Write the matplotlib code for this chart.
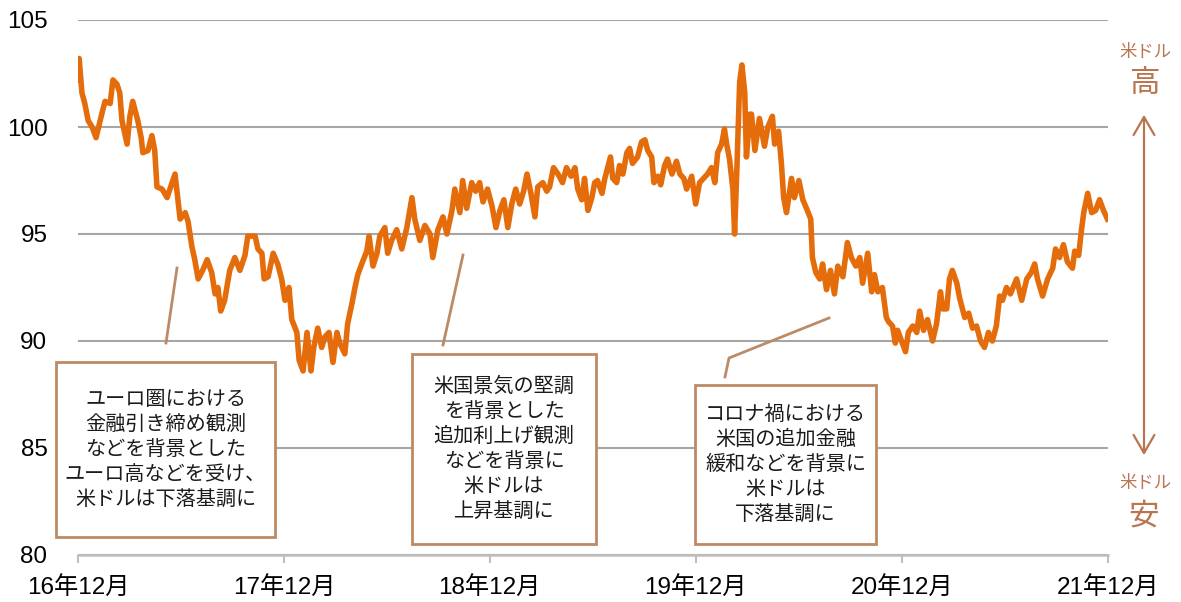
import matplotlib
matplotlib.use("Agg")
import matplotlib.pyplot as plt
from matplotlib.patches import Rectangle, FancyArrowPatch
from matplotlib.lines import Line2D
import pandas as pd

plt.rcParams["font.family"] = ["Liberation Sans", "Noto Sans CJK JP"]

# Days since 2016-12-01 and USD index level
days = [
    0, 2, 7, 12, 18, 25, 32, 43, 48, 57, 62, 69, 74, 78, 87, 92, 97, 106, 112, 115,
    124, 131, 136, 140, 149, 158, 163, 172, 181, 190, 195, 202, 207, 213, 221, 229, 237, 243, 248, 253,
    260, 269, 278, 287, 296, 301, 305, 314, 319, 326, 330, 337, 346, 354, 361, 367, 374, 379, 388, 392,
    399, 406, 413, 418, 425, 432, 438, 445, 452, 459, 464, 473, 478, 486, 491, 496, 503, 512, 516, 523,
    530, 535, 544, 549, 556, 565, 574, 583, 592, 597, 606, 615, 624, 629, 638, 647, 654, 663, 668, 677,
    682, 689, 698, 705, 712, 718, 726, 734, 741, 748, 755, 762, 769, 776, 783, 790, 796, 803, 810, 815,
    824, 831, 836, 843, 851, 859, 866, 874, 881, 886, 893, 898, 904, 911, 916, 921, 929, 934, 939, 944,
    948, 955, 960, 966, 973, 978, 983, 992, 999, 1005, 1010, 1017, 1021, 1028, 1033, 1040, 1045, 1053, 1061, 1067,
    1074, 1079, 1088, 1095, 1102, 1109, 1116, 1123, 1129, 1134, 1141, 1146, 1150, 1155, 1161, 1164, 1168, 1173, 1177, 1182,
    1185, 1191, 1194, 1200, 1208, 1217, 1223, 1231, 1235, 1242, 1247, 1251, 1256, 1265, 1270, 1278, 1285, 1293, 1299, 1302,
    1308, 1315, 1320, 1327, 1334, 1341, 1347, 1356, 1364, 1371, 1379, 1386, 1391, 1400, 1407, 1412, 1418, 1426, 1433, 1437,
    1444, 1449, 1453, 1460, 1467, 1472, 1480, 1487, 1492, 1499, 1506, 1515, 1522, 1529, 1533, 1540, 1545, 1550, 1558, 1563,
    1572, 1579, 1586, 1593, 1600, 1607, 1614, 1621, 1628, 1634, 1639, 1646, 1653, 1664, 1673, 1682, 1690, 1696, 1701, 1710,
    1719, 1728, 1733, 1740, 1747, 1754, 1763, 1767, 1774, 1779, 1783, 1790, 1797, 1804, 1811, 1818, 1825,
]
usd_index = [
    102.2, 103.2, 101.6, 101.1, 100.3, 100.0, 99.5, 100.7, 101.2, 101.1, 102.2, 102.0, 101.6, 100.3, 99.2, 100.5, 101.2, 100.3, 99.5, 98.8,
    98.9, 99.6, 98.9, 97.2, 97.1, 96.7, 97.1, 97.8, 95.7, 96.0, 95.6, 94.4, 93.8, 92.9, 93.3, 93.8, 93.2, 92.2, 92.5, 91.4,
    91.9, 93.3, 93.9, 93.3, 94.0, 94.9, 94.9, 94.9, 94.3, 94.1, 92.9, 93.0, 94.1, 93.6, 92.9, 91.9, 92.5, 91.0, 90.4, 89.1,
    88.6, 90.4, 88.6, 89.7, 90.6, 89.7, 90.2, 90.4, 89.0, 90.4, 89.9, 89.4, 90.8, 91.8, 92.5, 93.1, 93.6, 94.2, 94.9, 93.5,
    94.1, 94.9, 95.3, 94.1, 94.7, 95.2, 94.3, 95.3, 96.7, 95.7, 94.7, 95.4, 95.0, 93.9, 95.2, 95.8, 95.0, 96.1, 97.1, 96.0,
    97.5, 96.2, 97.4, 97.0, 97.4, 96.5, 97.1, 96.3, 95.3, 96.1, 96.6, 95.3, 96.4, 97.1, 96.4, 97.0, 97.8, 96.9, 95.8, 97.2,
    97.4, 97.0, 97.2, 98.1, 97.8, 97.4, 98.1, 97.7, 98.1, 97.1, 96.6, 97.6, 96.1, 96.7, 97.4, 97.5, 96.9, 97.6, 98.1, 98.6,
    97.6, 97.4, 98.2, 97.8, 98.8, 99.0, 98.3, 98.6, 99.3, 99.4, 98.9, 98.6, 97.4, 97.7, 97.3, 98.2, 98.5, 97.8, 98.4, 97.8,
    97.6, 97.1, 97.7, 96.4, 97.4, 97.6, 97.8, 98.1, 97.4, 98.8, 99.2, 99.9, 99.2, 98.5, 97.1, 95.0, 98.0, 102.1, 102.9, 101.6,
    98.6, 100.6, 100.6, 98.9, 100.4, 99.1, 100.0, 100.5, 99.2, 99.8, 98.3, 96.7, 96.0, 97.6, 96.7, 97.5, 96.6, 96.1, 95.7, 93.9,
    93.2, 92.9, 93.6, 92.4, 93.3, 92.2, 93.5, 93.0, 94.6, 93.9, 93.5, 93.9, 92.7, 94.1, 92.3, 93.1, 92.3, 92.5, 91.1, 90.9,
    90.7, 89.9, 90.5, 90.0, 89.5, 90.4, 90.7, 90.4, 91.4, 90.5, 91.0, 90.0, 90.8, 92.3, 91.5, 91.5, 92.9, 93.3, 92.7, 92.0,
    91.1, 91.3, 90.6, 90.7, 90.0, 89.7, 90.4, 90.0, 90.7, 92.1, 91.9, 92.5, 92.2, 92.9, 91.9, 92.9, 93.2, 93.6, 92.9, 92.1,
    92.9, 93.4, 94.3, 93.9, 94.5, 93.7, 93.4, 94.2, 94.0, 95.2, 96.0, 96.9, 96.0, 96.1, 96.6, 96.1, 95.7,
]

tick_labels = ["16年12月", "17年12月", "18年12月", "19年12月", "20年12月", "21年12月"]
y_ticks = [80, 85, 90, 95, 100, 105]

notes = [
    "ユーロ圏における\n金融引き締め観測\nなどを背景とした\nユーロ高などを受け、\n米ドルは下落基調に",
    "米国景気の堅調\nを背景とした\n追加利上げ観測\nなどを背景に\n米ドルは\n上昇基調に",
    "コロナ禍における\n米国の追加金融\n緩和などを背景に\n米ドルは\n下落基調に",
]

W, H = 1181, 602
LINE_C = "#E46C0A"
GRID_C = "#A6A6A6"
BROWN = "#B9754F"
BOX_C = "#BD8A66"


def fx(x):
    return x / W


def fy(y):
    return 1 - y / H


dates = pd.Timestamp("2016-12-01") + pd.to_timedelta(days, unit="D")
ticks = pd.date_range("2016-12-01", "2021-12-01", freq="12MS")

fig = plt.figure(figsize=(W / 100, H / 100), dpi=100)
ax = fig.add_axes([fx(78), fy(555), fx(1108) - fx(78), fy(20) - fy(555)])

ax.plot(dates, usd_index, color=LINE_C, lw=4.0, solid_joinstyle="round", zorder=3)

ax.set_ylim(80, 105)
ax.set_xlim(ticks[0], ticks[-1])
ax.set_yticks(y_ticks)
ax.set_yticklabels([str(v) for v in y_ticks], fontsize=17.5)
ax.set_xticks(ticks)
ax.set_xticklabels(tick_labels, fontsize=17.5)
ax.tick_params(axis="y", length=0, pad=22)
ax.tick_params(axis="x", length=6, width=1.5, color="#BFBFBF", pad=10)
ax.grid(axis="y", color=GRID_C, lw=1.5)
ax.set_axisbelow(True)
for side in ["left", "right", "top"]:
    ax.spines[side].set_visible(False)
ax.spines["bottom"].set_color("#BFBFBF")
ax.spines["bottom"].set_linewidth(1.8)

# annotation boxes (pixel extents of the reference)
boxes = [(56, 362, 275, 537), (412, 354, 596, 544), (695, 385, 876, 544)]
for (x0, y0, x1, y1), txt in zip(boxes, notes):
    fig.add_artist(Rectangle((fx(x0), fy(y1)), fx(x1) - fx(x0), fy(y0) - fy(y1),
                             transform=fig.transFigure, facecolor="white",
                             edgecolor=BOX_C, lw=2, zorder=5))
    fig.text(fx((x0 + x1) / 2), fy((y0 + y1) / 2), txt, ha="center", va="center",
             fontsize=14.5, linespacing=1.25, color="#1A1A1A",
             family=["Noto Sans CJK JP"], zorder=6)

leaders = [
    [(166, 343), (177, 268)],
    [(443, 345), (463, 255)],
    [(725, 377), (729, 358), (829, 318)],
]
for pts in leaders:
    fig.add_artist(Line2D([fx(p[0]) for p in pts], [fy(p[1]) for p in pts],
                          color=BOX_C, lw=2, zorder=4))

# right side: strong / weak dollar arrow
fig.add_artist(FancyArrowPatch((fx(1144), fy(458)), (fx(1144), fy(112)),
                               transform=fig.transFigure,
                               arrowstyle="<->,head_length=1.3,head_width=0.75",
                               mutation_scale=10, color=BROWN, lw=1.6))
fig.text(fx(1145), fy(52), "米ドル", ha="center", va="center", fontsize=12.5,
         color=BROWN, family=["Noto Sans CJK JP"])
fig.text(fx(1144), fy(84), "高", ha="center", va="center", fontsize=22,
         color=BROWN, family=["Noto Sans CJK JP"])
fig.text(fx(1145), fy(483), "米ドル", ha="center", va="center", fontsize=12.5,
         color=BROWN, family=["Noto Sans CJK JP"])
fig.text(fx(1144), fy(516), "安", ha="center", va="center", fontsize=22,
         color=BROWN, family=["Noto Sans CJK JP"])

fig.savefig("out.png", dpi=100)
